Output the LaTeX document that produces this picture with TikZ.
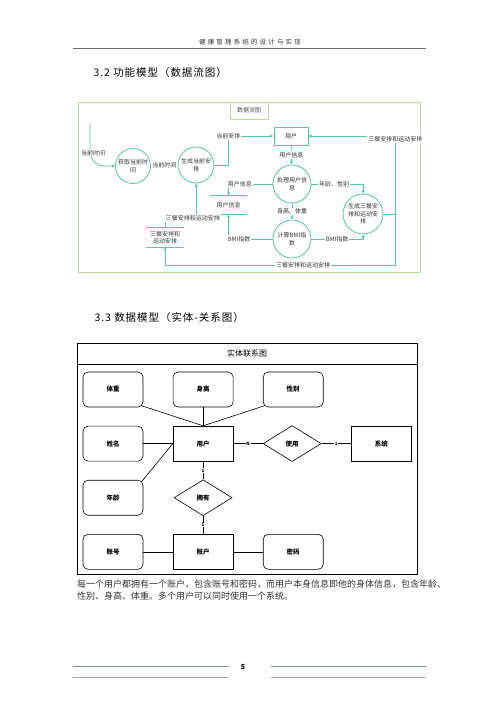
\documentclass[tikz,border=0pt]{standalone}
\usepackage{fontspec}
\setmainfont{Noto Sans CJK SC}
\newfontfamily\headcjk[LetterSpace=33]{Noto Sans CJK SC}
\newfontfamily\seccjk[LetterSpace=9]{Noto Sans CJK SC}
\usetikzlibrary{arrows.meta,positioning,shapes.geometric}
\definecolor{dfmint}{HTML}{55C7A5}
\definecolor{dfframe}{HTML}{B5DEA0}
\definecolor{txdark}{HTML}{333333}
\definecolor{rulegrey}{HTML}{6B6B6B}
\definecolor{footblue}{HTML}{7D8A9C}
\tikzset{
  proc/.style={circle,draw=dfmint,fill=white,line width=0.8pt,align=center,
               minimum size=38pt,inner sep=0pt,font=\fontsize{6}{7.5}\selectfont,text=txdark},
  ent/.style={draw=dfmint,fill=white,line width=0.8pt,minimum width=34pt,
              minimum height=18pt,inner sep=0pt,font=\fontsize{6}{7.5}\selectfont,text=txdark},
  dstore/.style={align=center,inner sep=0pt,minimum width=37pt,minimum height=18pt,
                 font=\fontsize{6}{7.5}\selectfont,text=txdark},
  storeln/.style={dfmint,line width=0.8pt},
  ar/.style={-{Latex[length=3.2pt,width=3.2pt]},line width=0.8pt,dfmint},
  lab/.style={font=\fontsize{6}{7}\selectfont,text=txdark,fill=white,inner sep=1pt},
  er/.style={draw,rounded corners=5pt,minimum width=60pt,minimum height=35pt,
             line width=0.6pt,font=\fontsize{6.5}{8}\selectfont\bfseries},
  erent/.style={er,sharp corners},
  rel/.style={draw,diamond,aspect=1.6,minimum width=58pt,minimum height=36pt,
              inner sep=1pt,line width=0.6pt,font=\fontsize{6.5}{8}\selectfont\bfseries},
  ln/.style={line width=0.6pt},
  card/.style={font=\fontsize{4.5}{5}\selectfont\bfseries,fill=white,inner sep=0.8pt},
}
\begin{document}
\begin{tikzpicture}[x=1pt,y=-1pt]
  \useasboundingbox[fill=white] (0,0) rectangle (500,707);
  % page head
  \node[font=\headcjk\fontsize{6.5}{8}\selectfont,text=txdark] (hdr) at (250,42) {健康管理系统的设计与实现};
  \draw[rulegrey,line width=0.7pt] (73,48) -- (426,48);
  \node[anchor=west,font=\seccjk\fontsize{10.5}{12}\selectfont] (sec2) at (90,73) {3.2 功能模型（数据流图）};

  % data flow diagram
  \draw[dfframe,line width=1pt] (78,102) rectangle (420,272);
  \node[draw=dfframe,line width=1pt,minimum width=38pt,minimum height=17pt,inner sep=0pt,
        font=\fontsize{6}{7}\selectfont,text=txdark!85] (dtitle) at (249,110.5) {数据流图};
  \node[proc,minimum size=35pt] (c1) at (133,166) {获取当前时\\间};
  \node[proc,minimum size=36pt] (c2) at (196,165) {生成当前安\\排};
  \node[ent] (user) at (291,136) {用户};
  \node[proc] (c3) at (292,184) {处理用户信\\息};
  \node[proc] (c4) at (292,239) {计算BMI指\\数};
  \node[proc,minimum size=40pt] (c5) at (363,214) {生成三餐安\\排和运动安\\排};
  \node[dstore] (us) at (228.5,205) {用户信息};
  \node[dstore,minimum height=19pt] (ms) at (165,237.5) {三餐安排和\\运动安排};
  \draw[storeln] (us.north west) -- (us.north east) (us.south west) -- (us.south east);
  \draw[storeln] (ms.north west) -- (ms.north east) (ms.south west) -- (ms.south east);
  \coordinate (in0) at (90,123);
  \draw[ar,rounded corners=14pt] (in0) |- node[lab,pos=.35,xshift=3pt]{当前时间} (c1.west);
  \draw[ar] (c1) -- node[lab]{当前时间} (c2);
  \draw[ar] (c2.east) -- ++(14,0) |- node[lab,pos=.5]{当前安排} (user.west);
  \draw[ar] (c5.east) -- ++(12,0) coordinate (rj) |- node[lab,pos=.5,yshift=-3pt]{三餐安排和运动安排} (user.east);
  \draw[ar] (rj) -- ++(0,51) -| node[lab,pos=.2]{三餐安排和运动安排} (ms.south);
  \draw[ar] (user) -- node[lab]{用户信息} (c3);
  \draw[ar] (c3.west) -| node[lab,pos=.37]{用户信息} (us.north);
  \draw[ar] (c3.east) -| node[lab,pos=.22]{年龄、性别} (c5.north);
  \draw[ar] (c3) -- node[lab]{身高、体重} (c4);
  \draw[ar] (c4.west) -| node[lab,pos=.38]{BMI指数} (us.south);
  \draw[ar] (c4.east) -| node[lab,pos=.25]{BMI指数} (c5.south);
  \draw[ar] (ms.north) -- ++(0,-10) -| node[lab,pos=.45]{三餐安排和运动安排} (c2.south);

  \node[anchor=west,font=\seccjk\fontsize{10.5}{12}\selectfont] (sec3) at (91,318) {3.3 数据模型（实体-关系图）};

  % entity relationship diagram
  \draw[ln] (77,343) rectangle (417,574);
  \draw[ln] (77,364) -- (417,364);
  \node[font=\fontsize{8}{9}\selectfont] (ertitle) at (247,353.5) {实体联系图};
  \node[er] (tz) at (113,389.5) {体重};
  \node[er,right=29.5pt of tz] (sg) {身高};
  \node[er,right=29.5pt of sg] (xb) {性别};
  \node[er,below=18.5pt of tz] (xm) {姓名};
  \node[erent,right=29.5pt of xm] (yh) {用户};
  \node[rel,right=29.5pt of yh] (sy) {使用};
  \node[erent,right=29.5pt of sy] (xt) {系统};
  \node[er,below=18.5pt of xm] (nl) {年龄};
  \node[rel,below=18pt of yh] (yy) {拥有};
  \node[er,below=18.5pt of nl] (zh) {账号};
  \node[erent,right=29.5pt of zh] (zf) {账户};
  \node[er,right=29.5pt of zf] (mm) {密码};
  \draw[ln] ([xshift=-1.5pt,yshift=1.5pt]tz.south east) -- (yh.north);
  \draw[ln] (sg) -- (yh);
  \draw[ln] ([xshift=1.5pt,yshift=1.5pt]xb.south west) -- (yh.north);
  \draw[ln] (xm) -- (yh);
  \draw[ln] ([xshift=-1.5pt,yshift=-1.5pt]nl.north east) -- (yh.west);
  \draw[ln] (yh) -- node[card]{N} (sy);
  \draw[ln] (sy) -- node[card]{1} (xt);
  \draw[ln] (yh) -- node[card]{1} (yy);
  \draw[ln] (yy) -- node[card]{1} (zf);
  \draw[ln] (zh) -- (zf);
  \draw[ln] (zf) -- (mm);

  \node[anchor=north west,align=left,inner sep=0pt,font=\fontsize{9}{12}\selectfont,text=txdark] (para) at (77,580)
    {每一个用户都拥有一个账户，包含账号和密码，而用户本身信息即他的身体信息，包含年龄、\\性别、身高、体重。多个用户可以同时使用一个系统。};

  % page foot
  \draw[footblue,line width=1pt] (73,666) -- (229,666) (271,666) -- (426,666);
  \draw[gray!70,line width=0.7pt] (73,677) -- (229,677) (271,677) -- (426,677);
  \node[font=\fontsize{7}{8}\selectfont\bfseries] (pgno) at (243,667) {5};
\end{tikzpicture}
\end{document}
